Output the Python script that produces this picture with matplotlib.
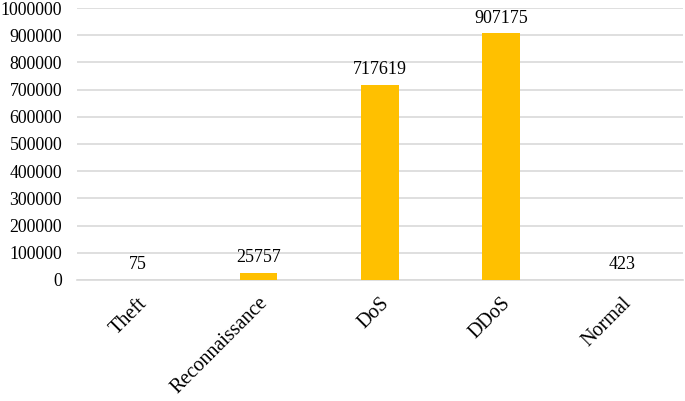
import matplotlib.pyplot as plt

# Data
categories = ['Theft', 'Reconnaissance', 'DoS', 'DDoS', 'Normal']
counts = [75, 25757, 717619, 907175, 423]

plt.rcParams['font.family'] = ['Liberation Serif', 'DejaVu Serif']

fig = plt.figure(figsize=(6.85, 4.01), dpi=100)
ax = fig.add_axes([0.112, 0.302, 0.885, 0.678])

x = range(len(categories))
bars = ax.bar(x, counts, width=0.31, color='#FFC000', zorder=3)

for xi, v in zip(x, counts):
    ax.text(xi, v + 24000, str(v), ha='center', va='bottom', fontsize=13)

ax.set_xlim(-0.5, len(categories) - 0.5)
ax.set_ylim(0, 1000000)
ax.set_yticks(range(0, 1000001, 100000))
ax.set_yticklabels([str(t) for t in range(0, 1000001, 100000)], fontsize=12.8)
ax.set_xticks(list(x))
ax.set_xticklabels(categories, rotation=45, ha='right', rotation_mode='anchor', fontsize=14.5)

ax.grid(axis='y', color='#d9d9d9', linewidth=1.2, zorder=0)
for s in ['top', 'right', 'left']:
    ax.spines[s].set_visible(False)
ax.spines['bottom'].set_color('#d9d9d9')
ax.spines['bottom'].set_linewidth(1.2)
ax.tick_params(axis='both', length=0)
ax.tick_params(axis='y', pad=10.5)
ax.tick_params(axis='x', pad=10)

fig.savefig('out.png', dpi=100)
